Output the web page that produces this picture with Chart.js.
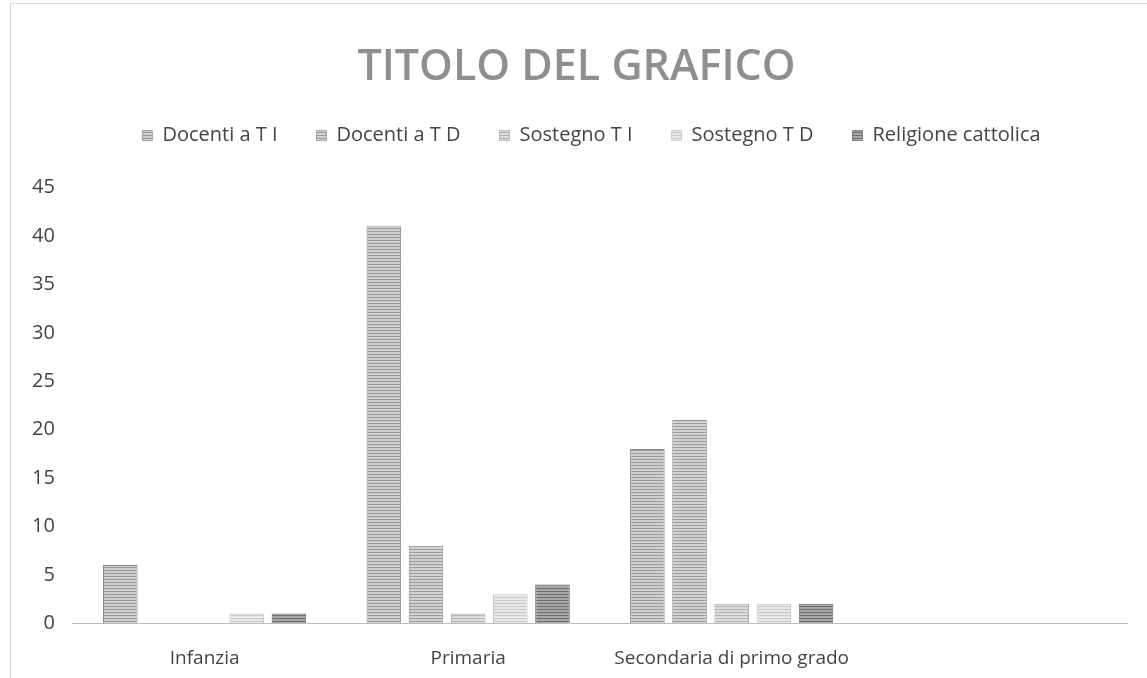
<!DOCTYPE html>
<html>
<head>
<meta charset="utf-8">
<script src="https://cdn.jsdelivr.net/npm/chart.js@4"></script>
<style>
  html, body { margin: 0; padding: 0; background: #fff; }
  #wrap {
    position: relative;
    width: 1147px;
    height: 678px;
  }
  #frame {
    position: absolute;
    left: 10px;
    top: 3px;
    right: 0;
    bottom: 0;
    border-left: 1px solid #cfcfcf;
    border-top: 1px solid #dcdcdc;
  }
</style>
</head>
<body>
<div id="wrap">
  <div id="frame"></div>
  <canvas id="chart" width="1147" height="678"></canvas>
</div>
<script>
let categories = ['Infanzia', 'Primaria', 'Secondaria di primo grado', ''];
let docentiTI = [6, 41, 18, null];
let docentiTD = [0, 8, 21, null];
let sostegnoTI = [0, 1, 2, null];
let sostegnoTD = [1, 3, 2, null];
let religione = [1, 4, 2, null];
let yTicks = [0, 5, 10, 15, 20, 25, 30, 35, 40, 45];

// horizontal stripes, like the scanned print
let stripes = (dark, light) => {
  let c = document.createElement('canvas');
  c.width = 4;
  c.height = 3;
  let g = c.getContext('2d');
  g.fillStyle = light;
  g.fillRect(0, 0, 4, 3);
  g.fillStyle = dark;
  g.fillRect(0, 0, 4, 1);
  return g.createPattern(c, 'repeat');
};

let series = [
  { label: 'Docenti a T I', data: docentiTI, fill: stripes('#9a9a9a', '#cfcfcf'), border: '#8a8a8a' },
  { label: 'Docenti a T D', data: docentiTD, fill: stripes('#9c9c9c', '#d2d2d2'), border: '#8c8c8c' },
  { label: 'Sostegno T I', data: sostegnoTI, fill: stripes('#b4b4b4', '#dcdcdc'), border: '#a8a8a8' },
  { label: 'Sostegno T D', data: sostegnoTD, fill: stripes('#cacaca', '#e8e8e8'), border: '#c4c4c4' },
  { label: 'Religione cattolica', data: religione, fill: stripes('#6e6e6e', '#a8a8a8'), border: '#666' },
];

let font = '"Open Sans", Lato, sans-serif';

// extra room under the legend, and nudge title/legend a bit right
let legendGap = {
  id: 'legendGap',
  beforeInit(chart) {
    let fit = chart.legend.fit;
    chart.legend.fit = function () {
      fit.bind(chart.legend)();
      this.height += 25;
    };
  },
  afterLayout(chart) {
    let lg = chart.legend;
    lg.left += 21;
    lg.right += 21;
    lg.top -= 7;
    lg.bottom -= 7;
    let tb = chart.titleBlock;
    tb.left += 6;
    tb.right += 6;
  },
};

new Chart(document.getElementById('chart').getContext('2d'), {
  type: 'bar',
  data: {
    labels: categories,
    datasets: series.map((s) => ({
      label: s.label,
      data: s.data,
      backgroundColor: s.fill,
      borderColor: s.border,
      borderWidth: { left: 1, right: 1, top: 1, bottom: 0 },
      categoryPercentage: 0.8,
      barPercentage: 0.82,
    })),
  },
  options: {
    responsive: false,
    animation: false,
    layout: {
      padding: { left: 14, right: 20, top: 42, bottom: -16 },
    },
    plugins: {
      title: {
        display: true,
        text: 'TITOLO DEL GRAFICO',
        color: '#8f8f8f',
        font: { family: font, size: 43, weight: '600' },
        padding: { top: 0, bottom: 0 },
      },
      legend: {
        display: true,
        labels: {
          color: '#454545',
          font: { family: font, size: 20 },
          boxWidth: 10,
          boxHeight: 10,
          padding: 39,
        },
      },
      tooltip: { enabled: false },
    },
    scales: {
      x: {
        grid: { display: false, drawTicks: false },
        border: { display: true, color: '#bdbdbd', width: 1 },
        ticks: {
          color: '#444',
          font: { family: font, size: 19 },
          padding: 24,
        },
      },
      y: {
        min: 0,
        max: 45,
        afterBuildTicks: (axis) => {
          axis.ticks = yTicks.map((v) => ({ value: v }));
        },
        grid: { display: false, drawTicks: false },
        border: { display: false },
        ticks: {
          color: '#444',
          font: { family: font, size: 20 },
          padding: 18,
        },
      },
    },
  },
  plugins: [legendGap],
});
</script>
</body>
</html>
